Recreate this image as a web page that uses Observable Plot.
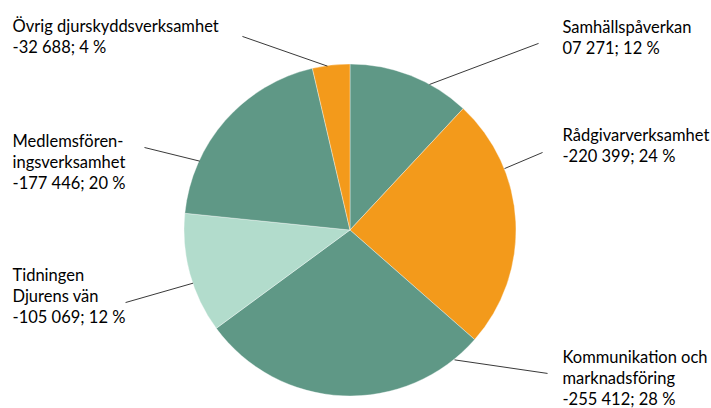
<!DOCTYPE html>
<html>
<head>
<meta charset="utf-8">
<script src="https://cdn.jsdelivr.net/npm/d3@7"></script>
<script src="https://cdn.jsdelivr.net/npm/@observablehq/plot@0.6"></script>
<style>
  html, body { margin: 0; padding: 0; background: #fff; }
  #chart { width: 711px; height: 408px; }
</style>
</head>
<body>
<div id="chart"></div>
<script>
// ---- Data ----
const categories = [
  "Samhällspåverkan",
  "Rådgivarverksamhet",
  "Kommunikation och marknadsföring",
  "Tidningen Djurens vän",
  "Medlemsföreningsverksamhet",
  "Övrig djurskyddsverksamhet"
];
const values = [-107271, -220399, -255412, -105069, -177446, -32688];
const percents = [12, 24, 28, 12, 20, 4];
const valueTexts = ["07 271", "-220 399", "-255 412", "-105 069", "-177 446", "-32 688"];
const nameLines = [
  "Samhällspåverkan",
  "Rådgivarverksamhet",
  "Kommunikation och\nmarknadsföring",
  "Tidningen\nDjurens vän",
  "Medlemsfören-\ningsverksamhet",
  "Övrig djurskyddsverksamhet"
];
const colorGroups = ["a", "b", "a", "c", "a", "b"];

// ---- Layout of labels (in pie-radius units, centre = 0,0) ----
const labelX      = [1.277, 1.277, 1.277, -2.036, -2.036, -2.036];
const labelY      = [1.211, 0.560, -0.777, -0.283, 0.524, 1.217];
const leaderX     = [1.133, 1.157, 1.187, -1.355, -1.241, -0.651];
const leaderY     = [1.127, 0.470, -0.861, -0.434, 0.500, 1.169];
const leaderAngle = [28.4, 68.1, 141.2, 251.5, 294.7, 352.0];

const colorDomain = ["a", "b", "c"];
const colorRange = ["#5f9886", "#f39a1b", "#b2dccc"];

const rows = categories.map((c, i) => ({
  name: c,
  value: values[i],
  group: colorGroups[i],
  label: `${nameLines[i]}\n${valueTexts[i]}; ${percents[i]} %`,
  lx: labelX[i], ly: labelY[i],
  sx: leaderX[i], sy: leaderY[i],
  ex: Math.sin(leaderAngle[i] * Math.PI / 180),
  ey: Math.cos(leaderAngle[i] * Math.PI / 180)
}));

const arcs = d3.pie().sort(null).value(d => Math.abs(d.value))(rows);

function pieMark(index, scales) {
  const x = scales.x, y = scales.y, color = scales.color;
  const cx = x(0), cy = y(0);
  const r = x(1) - x(0);
  const arc = d3.arc().innerRadius(0).outerRadius(r);
  const g = d3.create("svg:g").attr("transform", `translate(${cx},${cy})`);
  g.selectAll("path").data(arcs).join("path")
    .attr("d", arc)
    .attr("fill", d => color(d.data.group))
    .attr("stroke", "#ffffff")
    .attr("stroke-opacity", 0.6)
    .attr("stroke-width", 0.6);
  return g.node();
}

const chart = Plot.plot({
  width: 711,
  height: 408,
  marginTop: 0, marginRight: 0, marginBottom: 0, marginLeft: 0,
  style: { fontFamily: "Lato, sans-serif", background: "#fff" },
  x: { domain: [-350 / 166, 361 / 166], range: [0, 711], axis: null },
  y: { domain: [-178 / 166, 230 / 166], range: [408, 0], axis: null },
  color: { domain: colorDomain, range: colorRange },
  marks: [
    pieMark,
    Plot.link(rows, { x1: "sx", y1: "sy", x2: "ex", y2: "ey", stroke: "#222", strokeWidth: 0.9 }),
    Plot.text(rows, {
      x: "lx", y: "ly", text: "label",
      textAnchor: "start", lineAnchor: "top", dy: -11.8,
      lineHeight: 1.29, fontSize: 16.5, fill: "#000"
    })
  ]
});

document.getElementById("chart").appendChild(chart);
</script>
</body>
</html>
